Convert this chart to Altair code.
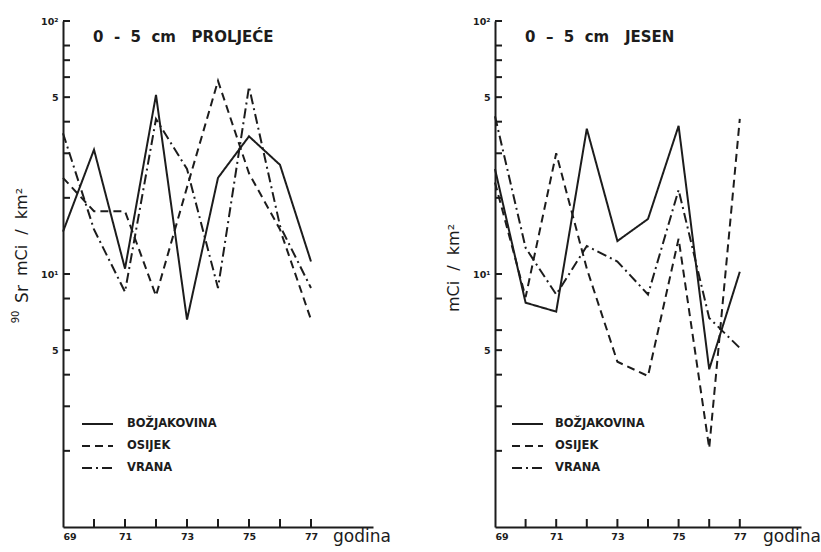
import altair as alt
import pandas as pd

years = [69, 70, 71, 72, 73, 74, 75, 76, 77]
series = ["BOŽJAKOVINA", "OSIJEK", "VRANA"]

# 0-5 cm PROLJEĆE (spring)
boz_p = [14.7, 31.0, 10.5, 51.0, 6.6, 24.0, 35.0, 27.0, 11.2]
osi_p = [24.0, 17.7, 17.7, 8.2, 22.0, 58.0, 25.0, 15.0, 6.6]
vra_p = [36.0, 15.0, 8.5, 41.0, 26.0, 8.8, 55.0, 15.5, 8.8]

# 0-5 cm JESEN (autumn)
boz_j = [26.0, 7.7, 7.1, 37.5, 13.5, 16.5, 38.5, 4.2, 10.2]
osi_j = [23.0, 8.1, 30.0, 10.5, 4.5, 3.95, 13.8, 2.05, 41.0]
vra_j = [42.0, 12.7, 8.3, 12.9, 11.2, 8.3, 21.5, 6.7, 5.1]

y_tick_values = [100, 80, 70, 60, 50, 40, 30, 20, 10, 8, 6, 5, 4, 3, 2]
y_label_values = [100, 50, 10, 5]
x_tick_values = [70, 71, 72, 73, 74, 75, 76, 77]

dashes = [[1, 0], [8, 5], [10, 4, 2, 4]]
INK = "#1c1c1c"
H = 506
BOLD_FONT = "DejaVu Sans"
SP = "\u00a0"


def panel(vals, width, title, ytexts, leg_x0, leg_x1, leg_tx, god_x, anchor=False):
    rows = []
    for s, arr in zip(series, vals):
        for yr, v in zip(years, arr):
            rows.append({"year": yr, "value": v, "series": s})
    df = pd.DataFrame(rows)
    xs = alt.Scale(domain=[69, 79], nice=False, zero=False)
    ys = alt.Scale(type="log", domain=[1, 100], nice=False)
    xa = alt.Axis(values=years, format="d", ticks=False, grid=False, title=None,
                  labelPadding=4, labelOverlap=False)
    ya = alt.Axis(values=y_label_values, ticks=False, grid=False, title=None, labelPadding=5,
                  labelOverlap=False,
                  labelExpr="datum.value == 100 ? '10²' : datum.value == 10 ? '10¹' : '5'")

    lines = alt.Chart(df).mark_line(strokeWidth=2, color=INK).encode(
        x=alt.X("year:Q", scale=xs, axis=xa),
        y=alt.Y("value:Q", scale=ys, axis=ya),
        strokeDash=alt.StrokeDash("series:N", scale=alt.Scale(domain=series, range=dashes), legend=None),
    )

    ytdf = pd.DataFrame({"value": y_tick_values})
    xtdf = pd.DataFrame({"year": x_tick_values})
    yt = alt.Chart(ytdf).mark_rule(color=INK, strokeWidth=2).encode(
        y=alt.Y("value:Q", scale=ys, axis=ya), x=alt.value(0), x2=alt.value(7))
    xt = alt.Chart(xtdf).mark_rule(color=INK, strokeWidth=2).encode(
        x=alt.X("year:Q", scale=xs), y=alt.value(H), y2=alt.value(H - 8))

    one = pd.DataFrame({"a": [0]})
    layers = [lines, yt, xt]

    layers.append(alt.Chart(one).mark_text(align="left", baseline="middle", fontSize=15,
                                           fontWeight="bold", font=BOLD_FONT, color=INK).encode(
        x=alt.value(30), y=alt.value(16), text=alt.value(title)))
    for txt, xc, yc, fs in ytexts:
        layers.append(alt.Chart(one).mark_text(align="center", baseline="middle", fontSize=fs,
                                               angle=270, font="DejaVu Sans", color=INK).encode(
            x=alt.value(xc), y=alt.value(yc), text=alt.value(txt)))
    layers.append(alt.Chart(one).mark_text(align="left", baseline="middle", fontSize=17,
                                           font="DejaVu Sans", color=INK).encode(
        x=alt.value(god_x), y=alt.value(H + 10), text=alt.value("godina")))

    for i, s in enumerate(series):
        sdf = pd.DataFrame({"s": [s]})
        layers.append(alt.Chart(sdf).mark_rule(color=INK, strokeWidth=2, strokeDash=dashes[i]).encode(
            x=alt.value(leg_x0), x2=alt.value(leg_x1), y=alt.value(403 + 22 * i)))
        layers.append(alt.Chart(sdf).mark_text(align="left", baseline="middle", fontSize=11.5,
                                               fontWeight="bold", font=BOLD_FONT, color=INK).encode(
            x=alt.value(leg_tx), y=alt.value(403 + 22 * i), text="s:N"))

    if anchor:
        layers.append(alt.Chart(one).mark_rule(opacity=0, strokeWidth=0.1).encode(
            x=alt.value(-63), x2=alt.value(-63), y=alt.value(-21), y2=alt.value(H + 25)))

    return alt.layer(*layers).properties(width=width, height=H)


mci = f"mCi{SP}{SP}/{SP}{SP}km²"
left = panel([boz_p, osi_p, vra_p], 310, f"0{SP}{SP}-{SP}{SP}5{SP}{SP}cm{SP*3}PROLJEĆE",
             [(mci, -41, 211, 16), ("Sr", -40, 273, 17), ("90", -47, 296, 10)],
             19, 50, 64, 270, anchor=True)
right = panel([boz_j, osi_j, vra_j], 306, f"0{SP}{SP}–{SP}{SP}5{SP}{SP}cm{SP*3}JESEN",
              [(mci, -41, 247, 16)], 17, 48, 60, 268)

chart = alt.hconcat(left, right, spacing=122, bounds="flush").properties(
    padding=0
).configure_view(stroke=None).configure_axis(
    domainColor=INK, domainWidth=2, labelColor=INK, labelFont=BOLD_FONT,
    labelFontWeight="bold", labelFontSize=9.5, labelOverlap=False
)

chart.save("out.html", embed_options={"renderer": "svg", "actions": False})
